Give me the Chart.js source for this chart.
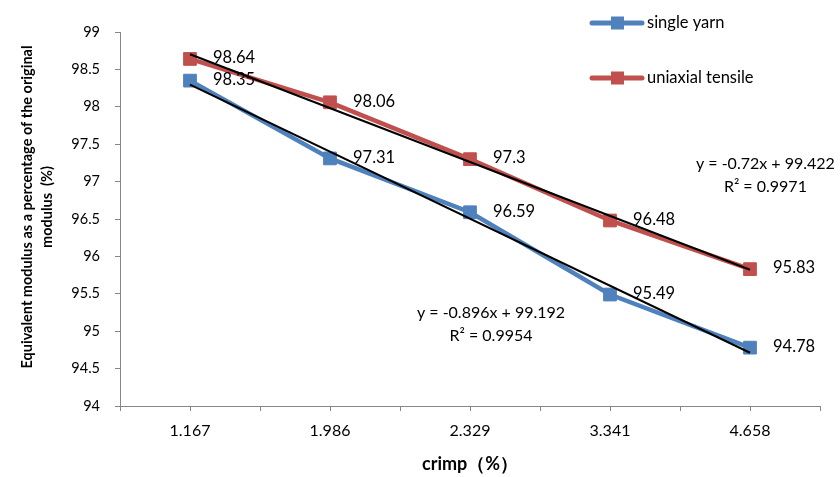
<!DOCTYPE html>
<html>
<head>
<meta charset="utf-8">
<script src="https://cdn.jsdelivr.net/npm/chart.js@4/dist/chart.umd.min.js"></script>
<style>
  html, body { margin: 0; padding: 0; background: #ffffff; }
  #wrap { width: 840px; height: 477px; position: relative; }
</style>
</head>
<body>
<div id="wrap"><canvas id="chart" width="840" height="477"></canvas></div>
<script>
// Crimp levels (%) on the category axis
const crimp = ['1.167', '1.986', '2.329', '3.341', '4.658'];

// Equivalent modulus as % of the original modulus
const singleYarn = [98.35, 97.31, 96.59, 95.49, 94.78];
const uniaxialTensile = [98.64, 98.06, 97.3, 96.48, 95.83];

// Y axis tick values
const yTicks = [94, 94.5, 95, 95.5, 96, 96.5, 97, 97.5, 98, 98.5, 99];

// Linear fits (x = category number 1..5): slope, intercept, R²
const singleFit = [-0.896, 99.192, '0.9954'];
const tensileFit = [-0.72, 99.422, '0.9971'];

const seriesNames = ['single yarn', 'uniaxial tensile'];
const BLUE = '#4F81BD';
const RED = '#C0504D';
const AXIS = '#868686';
const FONT = 'Lato, "Open Sans", "DejaVu Sans", sans-serif';

// Fit line from the first to the last category
function fitLine(fit) {
  const n = crimp.length;
  return [
    { x: crimp[0], y: fit[0] * 1 + fit[1] },
    { x: crimp[n - 1], y: fit[0] * n + fit[1] }
  ];
}

function fitText(fit) {
  const sign = fit[1] >= 0 ? '+' : '-';
  return 'y = ' + fit[0] + 'x ' + sign + ' ' + Math.abs(fit[1]);
}

// Value labels to the right of each marker
const valueLabels = {
  id: 'valueLabels',
  afterDatasetsDraw(chart) {
    const ctx = chart.ctx;
    ctx.save();
    ctx.font = '16.5px ' + FONT;
    ctx.fillStyle = '#000';
    ctx.textAlign = 'left';
    ctx.textBaseline = 'middle';
    chart.data.datasets.forEach((ds, i) => {
      if (!ds.showValues) return;
      const meta = chart.getDatasetMeta(i);
      meta.data.forEach((pt, j) => {
        ctx.fillText(String(ds.data[j]), pt.x + 23, pt.y - 1);
      });
    });
    ctx.restore();
  }
};

// Fit equations
const fitLabels = {
  id: 'fitLabels',
  afterDatasetsDraw(chart) {
    const ctx = chart.ctx;
    const xs = chart.scales.x, ys = chart.scales.y;
    ctx.save();
    ctx.font = '16px ' + FONT;
    ctx.fillStyle = '#000';
    ctx.textAlign = 'center';
    ctx.textBaseline = 'middle';
    const items = [
      { fit: tensileFit, xi: 4.11, yv: 97.235 },
      { fit: singleFit, xi: 2.15, yv: 95.243 }
    ];
    items.forEach(it => {
      const px = xs.getPixelForValue(it.xi);
      const py = ys.getPixelForValue(it.yv);
      ctx.fillText(fitText(it.fit), px, py);
      ctx.fillText('R\u00B2 = ' + it.fit[2], px, py + 23);
    });
    ctx.restore();
  }
};

// Minor tick marks at category centres on the x axis
const centreTicks = {
  id: 'centreTicks',
  afterDraw(chart) {
    const ctx = chart.ctx;
    const xs = chart.scales.x;
    const y0 = chart.chartArea.bottom;
    ctx.save();
    ctx.strokeStyle = AXIS;
    ctx.lineWidth = 1;
    crimp.forEach((c, i) => {
      const px = Math.round(xs.getPixelForValue(i)) + 0.5;
      ctx.beginPath();
      ctx.moveTo(px, y0);
      ctx.lineTo(px, y0 + 5);
      ctx.stroke();
    });
    ctx.restore();
  }
};

// Y axis title (two lines, rotated)
const yTitle = {
  id: 'yTitle',
  afterDraw(chart) {
    const ctx = chart.ctx;
    ctx.save();
    ctx.translate(27, 207);
    ctx.rotate(-Math.PI / 2);
    ctx.font = 'bold 14.5px ' + FONT;
    ctx.fillStyle = '#000';
    ctx.textAlign = 'center';
    ctx.textBaseline = 'middle';
    ctx.fillText('Equivalent modulus as a percentage of the original', 0, 0);
    ctx.fillText('modulus  (%)', 0, 20);
    ctx.restore();
  }
};

// Legend in the top-right corner
const cornerLegend = {
  id: 'cornerLegend',
  afterDraw(chart) {
    const ctx = chart.ctx;
    const rows = [
      { name: seriesNames[0], color: BLUE, y: 23 },
      { name: seriesNames[1], color: RED, y: 78 }
    ];
    ctx.save();
    rows.forEach(r => {
      ctx.strokeStyle = r.color;
      ctx.lineWidth = 5;
      ctx.lineCap = 'round';
      ctx.beginPath();
      ctx.moveTo(592, r.y);
      ctx.lineTo(642, r.y);
      ctx.stroke();
      ctx.fillStyle = r.color;
      ctx.fillRect(611, r.y - 6.5, 13, 13);
      ctx.fillStyle = '#000';
      ctx.font = '16.5px ' + FONT;
      ctx.textAlign = 'left';
      ctx.textBaseline = 'middle';
      ctx.fillText(r.name, 647, r.y);
    });
    ctx.restore();
  }
};

const seriesStyle = (color) => ({
  borderColor: color,
  backgroundColor: color,
  borderWidth: 4.5,
  pointStyle: 'rect',
  pointRadius: 9,
  pointBorderWidth: 1,
  pointBorderColor: color,
  pointBackgroundColor: color,
  tension: 0,
  order: 1,
  showValues: true
});

const trendStyle = {
  borderColor: '#000000',
  borderWidth: 2,
  pointRadius: 0,
  fill: false,
  order: 0
};

new Chart(document.getElementById('chart'), {
  type: 'line',
  data: {
    labels: crimp,
    datasets: [
      Object.assign({ label: seriesNames[0], data: singleYarn }, seriesStyle(BLUE)),
      Object.assign({ label: seriesNames[1], data: uniaxialTensile }, seriesStyle(RED)),
      Object.assign({ label: 'fit 1', data: fitLine(singleFit) }, trendStyle),
      Object.assign({ label: 'fit 2', data: fitLine(tensileFit) }, trendStyle)
    ]
  },
  options: {
    responsive: false,
    animation: false,
    devicePixelRatio: 1,
    layout: { padding: { left: 0, top: 32, right: 20, bottom: 0 } },
    plugins: {
      legend: { display: false },
      tooltip: { enabled: false }
    },
    scales: {
      x: {
        type: 'category',
        offset: true,
        grid: { offset: true, drawOnChartArea: false, drawTicks: true, tickLength: 5, color: AXIS },
        border: { display: true, color: AXIS, width: 1 },
        ticks: { font: { family: FONT, size: 16 }, color: '#000', padding: 10, maxRotation: 0 },
        title: {
          display: true,
          text: 'crimp\uFF08%\uFF09',
          font: { family: FONT, size: 18, weight: 'bold' },
          color: '#000',
          padding: { top: 4, bottom: 2 }
        },
        afterFit: (s) => { s.height = 71; }
      },
      y: {
        min: yTicks[0],
        max: yTicks[yTicks.length - 1],
        afterBuildTicks: (s) => { s.ticks = yTicks.map(v => ({ value: v })); },
        grid: { drawOnChartArea: false, drawTicks: true, tickLength: 5, color: AXIS },
        border: { display: true, color: AXIS, width: 1 },
        ticks: { font: { family: FONT, size: 14.5 }, color: '#000', padding: 15,
                 callback: (v) => String(v) },
        afterFit: (s) => { s.width = 120; }
      }
    }
  },
  plugins: [valueLabels, fitLabels, centreTicks, yTitle, cornerLegend]
});
</script>
</body>
</html>
